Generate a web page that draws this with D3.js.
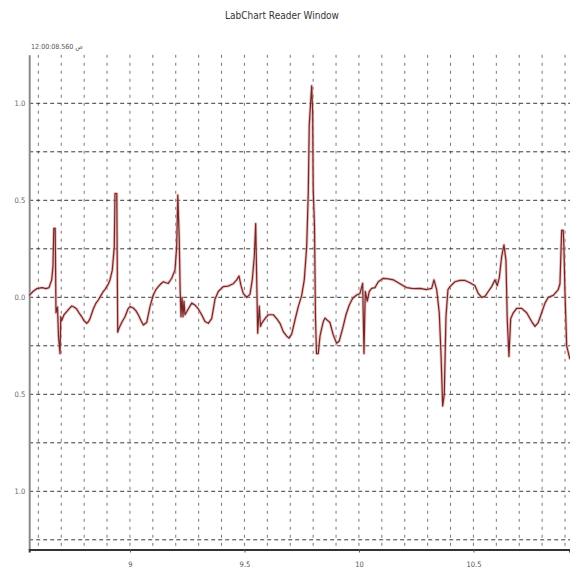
<!DOCTYPE html>
<html>
<head>
<meta charset="utf-8">
<script src="https://cdn.jsdelivr.net/npm/d3@7"></script>
<style>
  html, body { margin: 0; padding: 0; background: #fff; }
  svg { display: block; }
  text { font-family: "DejaVu Sans Condensed", "DejaVu Sans", "Liberation Sans", sans-serif; }
</style>
</head>
<body>
<svg id="chart" width="570" height="574"></svg>
<script>
// Recording window: one channel, seconds from 12:00:08.560
const windowTitle = "LabChart Reader Window";
const startStamp = "12:00:08.560 ص";

// Sample times (s)
const sampleTimes = [
  8.5600, 8.5766, 8.5941, 8.6159, 8.6334, 8.6465, 8.6583, 8.6639, 8.6674, 8.6735,
  8.6770, 8.6836, 8.6879, 8.6945, 8.6980, 8.7019, 8.7120, 8.7238, 8.7338, 8.7456,
  8.7556, 8.7674, 8.7775, 8.7893, 8.7993, 8.8111, 8.8190, 8.8255, 8.8399, 8.8517,
  8.8617, 8.8735, 8.8836, 8.8910, 8.8984, 8.9063, 8.9128, 8.9229, 8.9316, 8.9347,
  8.9425, 8.9465, 8.9521, 8.9639, 8.9783, 8.9914, 9.0002, 9.0146, 9.0264, 9.0364,
  9.0482, 9.0583, 9.0731, 9.0875, 9.1019, 9.1137, 9.1238, 9.1355, 9.1456, 9.1574,
  9.1674, 9.1823, 9.1967, 9.2041, 9.2089, 9.2150, 9.2194, 9.2229, 9.2273, 9.2316,
  9.2360, 9.2403, 9.2548, 9.2696, 9.2840, 9.2984, 9.3133, 9.3277, 9.3421, 9.3569,
  9.3714, 9.3858, 9.4076, 9.4294, 9.4513, 9.4661, 9.4762, 9.4849, 9.4949, 9.5098,
  9.5242, 9.5342, 9.5430, 9.5491, 9.5578, 9.5648, 9.5700, 9.5753, 9.5897, 9.6041,
  9.6259, 9.6408, 9.6552, 9.6696, 9.6845, 9.6945, 9.7063, 9.7207, 9.7351, 9.7500,
  9.7613, 9.7718, 9.7788, 9.7831, 9.7936, 9.7980, 9.8002, 9.8059, 9.8102, 9.8146,
  9.8224, 9.8299, 9.8373, 9.8443, 9.8517, 9.8591, 9.8735, 9.8879, 9.9028, 9.9141,
  9.9290, 9.9434, 9.9578, 9.9727, 9.9901, 10.0045, 10.0163, 10.0220, 10.0277, 10.0364,
  10.0452, 10.0556, 10.0700, 10.0845, 10.1063, 10.1281, 10.1500, 10.1718, 10.1936, 10.2085,
  10.2303, 10.2491, 10.2666, 10.2958, 10.3176, 10.3277, 10.3395, 10.3508, 10.3583, 10.3657,
  10.3727, 10.3801, 10.3888, 10.3976, 10.4194, 10.4412, 10.4631, 10.4849, 10.5067, 10.5211,
  10.5360, 10.5504, 10.5648, 10.5797, 10.5941, 10.6041, 10.6128, 10.6233, 10.6334, 10.6421,
  10.6478, 10.6552, 10.6626, 10.6740, 10.6888, 10.7107, 10.7325, 10.7543, 10.7687, 10.7831,
  10.7980, 10.8124, 10.8268, 10.8486, 10.8705, 10.8779, 10.8853, 10.8923, 10.8954, 10.8997,
  10.9072, 10.9216
];

// Channel amplitude at each sample
const sampleValues = [
  0.010, 0.030, 0.045, 0.050, 0.045, 0.050, 0.090, 0.160, 0.355, 0.355,
  -0.080, -0.050, -0.200, -0.290, -0.100, -0.120, -0.090, -0.074, -0.060, -0.045,
  -0.050, -0.060, -0.080, -0.100, -0.120, -0.134, -0.125, -0.110, -0.060, -0.030,
  -0.014, 0.010, 0.030, 0.040, 0.055, 0.070, 0.090, 0.140, 0.260, 0.535,
  0.535, -0.180, -0.160, -0.130, -0.100, -0.060, -0.048, -0.055, -0.070, -0.090,
  -0.120, -0.143, -0.130, -0.048, 0.012, 0.040, 0.055, 0.070, 0.080, 0.075,
  0.072, 0.098, 0.140, 0.260, 0.527, 0.310, 0.030, -0.100, 0.000, -0.100,
  -0.020, -0.090, -0.060, -0.030, -0.040, -0.060, -0.090, -0.125, -0.134, -0.110,
  -0.010, 0.030, 0.055, 0.058, 0.070, 0.090, 0.110, 0.060, 0.020, 0.000,
  0.015, 0.090, 0.210, 0.380, -0.185, -0.045, -0.150, -0.134, -0.110, -0.090,
  -0.090, -0.110, -0.134, -0.177, -0.200, -0.210, -0.190, -0.117, -0.048, 0.010,
  0.090, 0.260, 0.540, 0.890, 1.090, 0.950, 0.560, 0.370, -0.100, -0.290,
  -0.290, -0.200, -0.160, -0.125, -0.107, -0.115, -0.130, -0.195, -0.237, -0.225,
  -0.160, -0.090, -0.040, -0.005, 0.012, 0.020, 0.072, -0.290, 0.030, -0.020,
  0.030, 0.046, 0.050, 0.080, 0.098, 0.095, 0.090, 0.075, 0.060, 0.050,
  0.046, 0.045, 0.046, 0.040, 0.046, 0.090, 0.040, -0.080, -0.290, -0.560,
  -0.500, -0.100, 0.040, 0.055, 0.080, 0.087, 0.087, 0.075, 0.060, 0.020,
  0.000, 0.005, 0.030, 0.055, 0.090, 0.060, 0.100, 0.210, 0.270, 0.190,
  -0.117, -0.305, -0.110, -0.080, -0.057, -0.057, -0.080, -0.125, -0.150, -0.130,
  -0.080, -0.030, 0.000, 0.010, 0.040, 0.070, 0.345, 0.345, 0.250, 0.030,
  -0.250, -0.320
];

// Axis ticks
const xTickValues = [9, 9.5, 10, 10.5];
const xTickLabels = ["9", "9.5", "10", "10.5"];
const yTickValues = [1, 0.5, 0, -0.5, -1];
const yTickLabels = ["1.0", "0.5", "0.0", "0.5", "1.0"];

// Grid divisions
const xGridValues = d3.range(86, 110).map(d => d / 10);
const yGridValues = d3.range(-5, 5).map(d => d / 4);

const margin = { left: 29.2, right: 0.4, top: 54.8, bottom: 24.5 };
const W = 570, H = 574;

const svg = d3.select("#chart");

const x = d3.scaleLinear()
  .domain([8.56, 10.92])
  .range([margin.left, W - margin.right]);
const y = d3.scaleLinear()
  .domain([-1.3, 1.25])
  .range([H - margin.bottom, margin.top]);

// Title and start time stamp
svg.append("text")
  .attr("x", 282).attr("y", 19)
  .attr("text-anchor", "middle")
  .attr("font-size", 10)
  .attr("fill", "#333")
  .text(windowTitle);

svg.append("text")
  .attr("x", 31).attr("y", 49)
  .attr("font-size", 7)
  .attr("fill", "#555")
  .text(startStamp);

// Vertical grid (every 0.1 s)
svg.append("g")
  .selectAll("line")
  .data(xGridValues)
  .join("line")
  .attr("x1", d => x(d)).attr("x2", d => x(d))
  .attr("y1", y(1.25)).attr("y2", y(-1.3))
  .attr("stroke", "#787878")
  .attr("stroke-width", 1)
  .attr("stroke-dasharray", "3,5");

// Horizontal grid (every 0.25)
svg.append("g")
  .selectAll("line")
  .data(yGridValues)
  .join("line")
  .attr("x1", x(8.56)).attr("x2", W)
  .attr("y1", d => y(d)).attr("y2", d => y(d))
  .attr("stroke", "#3a3a3a")
  .attr("stroke-width", 1)
  .attr("stroke-dasharray", "4,3");

// Left axis
const yAxis = d3.axisLeft(y)
  .tickValues(yTickValues)
  .tickSize(0)
  .tickPadding(4)
  .tickFormat((d, i) => yTickLabels[i]);
const gy = svg.append("g")
  .attr("transform", `translate(${margin.left},0)`)
  .call(yAxis);
gy.select(".domain").attr("stroke", "#8a8a8a").attr("stroke-width", 2);
gy.selectAll("text").attr("font-size", 7.5).attr("fill", "#666");

// Bottom axis
const xAxis = d3.axisBottom(x)
  .tickValues(xTickValues)
  .tickSize(3)
  .tickPadding(9)
  .tickFormat((d, i) => xTickLabels[i]);
const gx = svg.append("g")
  .attr("transform", `translate(0,${H - margin.bottom})`)
  .call(xAxis);
gx.select(".domain").attr("stroke", "#333").attr("stroke-width", 2);
gx.selectAll(".tick line").attr("stroke", "#555");
gx.selectAll("text").attr("font-size", 7.5).attr("fill", "#555");

// Signal trace: soft pink halo under a dark red line
const samples = sampleTimes.map((t, i) => [t, sampleValues[i]]);
const line = d3.line()
  .x(d => x(d[0]))
  .y(d => y(d[1]));

svg.append("path")
  .datum(samples)
  .attr("d", line)
  .attr("fill", "none")
  .attr("stroke", "#e09a9a")
  .attr("stroke-width", 3)
  .attr("stroke-opacity", 0.6)
  .attr("stroke-linejoin", "round");

svg.append("path")
  .datum(samples)
  .attr("d", line)
  .attr("fill", "none")
  .attr("stroke", "#742828")
  .attr("stroke-width", 1.2)
  .attr("stroke-linejoin", "round");
</script>
</body>
</html>
